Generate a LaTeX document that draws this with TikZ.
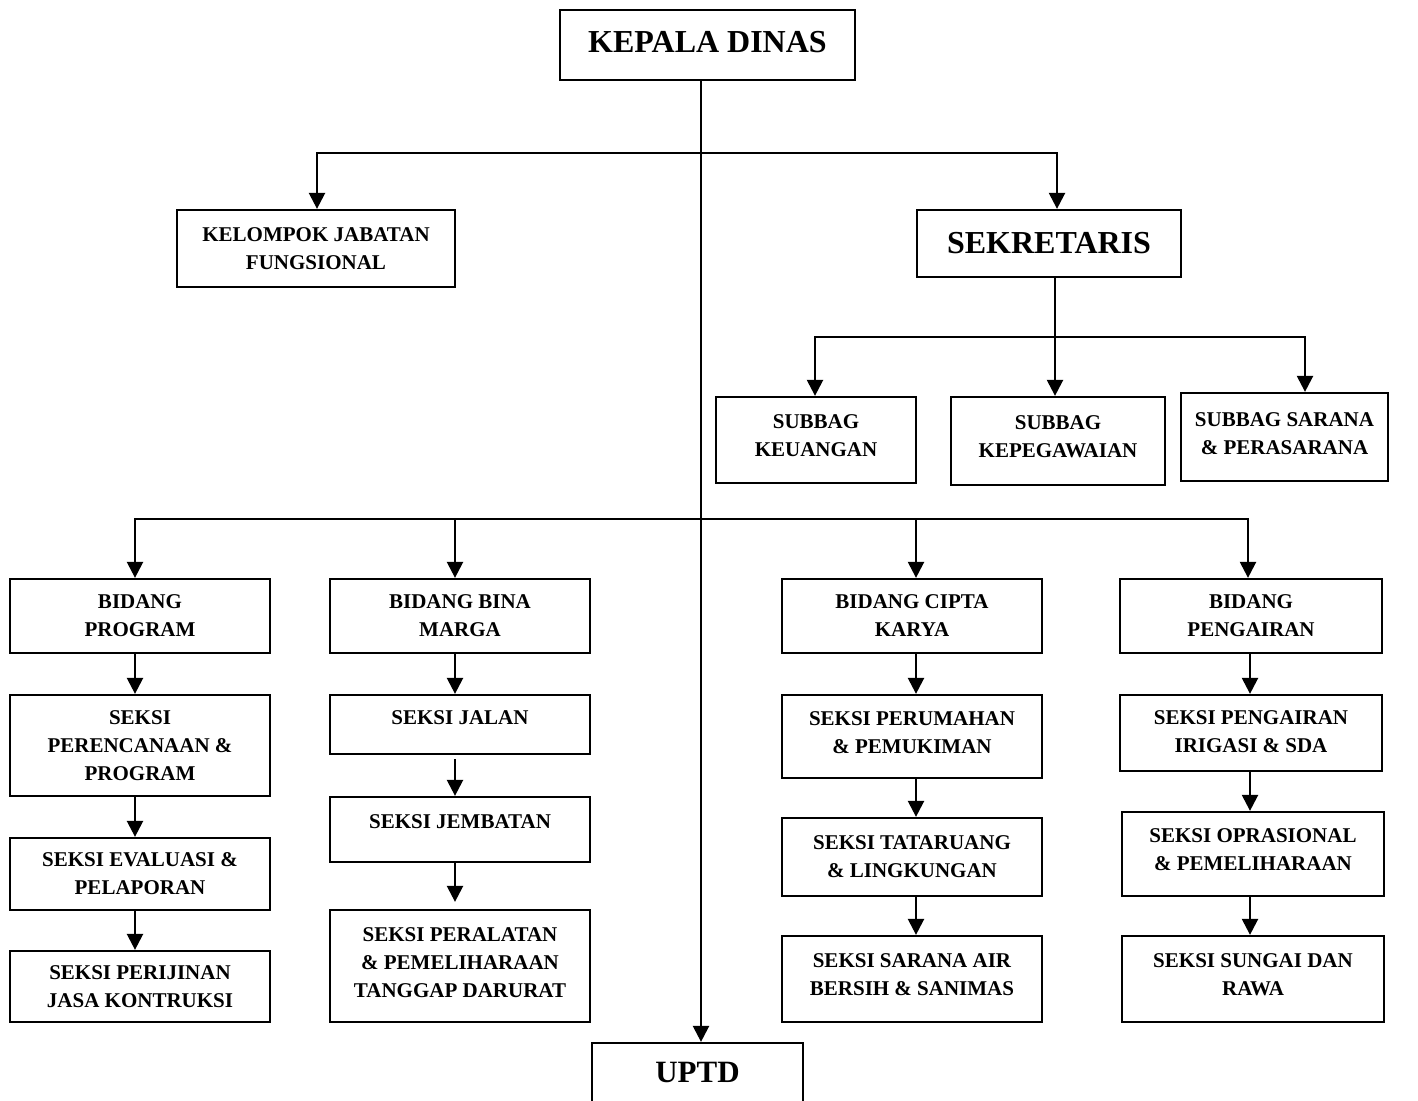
\documentclass[tikz,border=0pt]{standalone}
\usepackage{fontspec}
\setmainfont{Liberation Serif}
\usetikzlibrary{arrows.meta}
\begin{document}
\begin{tikzpicture}[x=0.5pt,y=-0.5pt,
  box/.style={draw, line width=1.15pt, rectangle, align=center, inner sep=0pt,
    font=\fontsize{10.5}{14}\selectfont\bfseries},
  big/.style={box, font=\fontsize{16}{18}\selectfont\bfseries},
  colbox/.style={box, minimum width=130pt},
  arr/.style={line width=1.2pt, -{Triangle[width=8pt,length=8pt]}}]
\useasboundingbox (0,0) rectangle (1418,1100);
\clip (0,0) rectangle (1418,1100);

% top level
\node[big, minimum width=147.5pt, minimum height=35pt, text depth=3pt] (kd) at (707.5,45) {KEPALA DINAS};
\node[box, minimum width=139pt, minimum height=38.5pt] (kjf) at (316,248.5) {KELOMPOK JABATAN\\FUNGSIONAL};
\node[big, minimum width=132pt, minimum height=33.5pt] (sek) at (1049,243.5) {SEKRETARIS};

% subbag
\node[box, minimum width=100pt, minimum height=43pt, text depth=4pt] (sk1) at (816,440) {SUBBAG\\KEUANGAN};
\node[box, minimum width=107pt, minimum height=44pt, text depth=4pt] (sk2) at (1058,441) {SUBBAG\\KEPEGAWAIAN};
\node[box, minimum width=103.5pt, minimum height=44pt, text depth=3.5pt] (sk3) at (1284.5,437) {SUBBAG SARANA\\\& PERASARANA};

% column 1
\node[colbox, minimum height=37pt] (b1) at (140,616) {BIDANG\\PROGRAM};
\node[colbox, minimum height=50.5pt] (s11) at (140,745.5) {SEKSI\\PERENCANAAN \&\\PROGRAM};
\node[colbox, minimum height=36pt] (s12) at (140,874) {SEKSI EVALUASI \&\\PELAPORAN};
\node[colbox, minimum height=35.5pt] (s13) at (140,986.5) {SEKSI PERIJINAN\\JASA KONTRUKSI};

% column 2
\node[colbox, minimum height=37pt] (b2) at (460,616) {BIDANG BINA\\MARGA};
\node[colbox, minimum height=29.5pt, text height=7pt, text depth=7pt] (s21) at (460,724.5) {SEKSI JALAN};
\node[colbox, minimum height=32.5pt, text height=7pt, text depth=8pt] (s22) at (460,829.5) {SEKSI JEMBATAN};
\node[colbox, minimum height=56pt, text depth=3.5pt] (s23) at (460,966) {SEKSI PERALATAN\\\& PEMELIHARAAN\\TANGGAP DARURAT};

% column 3
\node[colbox, minimum height=37pt] (b3) at (912,616) {BIDANG CIPTA\\KARYA};
\node[colbox, minimum height=41.5pt, text depth=4pt] (s31) at (912,736.5) {SEKSI PERUMAHAN\\\& PEMUKIMAN};
\node[colbox, minimum height=39pt] (s32) at (912,857) {SEKSI TATARUANG\\\& LINGKUNGAN};
\node[colbox, minimum height=43pt, text depth=4pt] (s33) at (912,979) {SEKSI SARANA AIR\\BERSIH \& SANIMAS};

% column 4
\node[colbox, minimum width=131pt, minimum height=37pt] (b4) at (1251,616) {BIDANG\\PENGAIRAN};
\node[colbox, minimum width=131pt, minimum height=38pt, text depth=1pt] (s41) at (1251,733) {SEKSI PENGAIRAN\\IRIGASI \& SDA};
\node[colbox, minimum width=131pt, minimum height=42pt, text depth=4pt] (s42) at (1253,854) {SEKSI OPRASIONAL\\\& PEMELIHARAAN};
\node[colbox, minimum width=131pt, minimum height=43pt, text depth=4pt] (s43) at (1253,979) {SEKSI SUNGAI DAN\\RAWA};

% UPTD
\node[box, font=\fontsize{15.5}{18}\selectfont\bfseries, minimum width=105.5pt, minimum height=33.5pt, text depth=4.5pt] (uptd) at (697.5,1076.5) {UPTD};

% connectors
\coordinate (tx) at (701,0);
\draw[arr] (kd.south -| tx) -- (uptd.north -| tx);

\coordinate (h1) at (701,153);
\draw[arr] (h1) -| ([xshift=0.5pt]kjf.north);
\draw[arr] (h1) -| ([xshift=4pt]sek.north);

\coordinate (sx) at (1055,0);
\coordinate (h2) at (1055,337);
\draw[arr] (sek.south -| sx) -- (sk2.north -| sx);
\draw[arr] (h2) -| ([xshift=-0.5pt]sk1.north);
\draw[arr] (h2) -| ([xshift=10.25pt]sk3.north);

\coordinate (h3) at (701,519);
\draw[arr] (h3) -| ([xshift=-2.5pt]b1.north);
\draw[arr] (h3) -| ([xshift=-2.5pt]b2.north);
\draw[arr] (h3) -| ([xshift=2pt]b3.north);
\draw[arr] (h3) -| ([xshift=-1.5pt]b4.north);

\coordinate (c1) at (135,0);
\draw[arr] (b1.south -| c1) -- (s11.north -| c1);
\draw[arr] (s11.south -| c1) -- (s12.north -| c1);
\draw[arr] (s12.south -| c1) -- (s13.north -| c1);

\coordinate (c2) at (455,0);
\draw[arr] (b2.south -| c2) -- (s21.north -| c2);
\draw[arr, shorten <=2pt] (s21.south -| c2) -- (s22.north -| c2);
\draw[arr, shorten >=3.5pt] (s22.south -| c2) -- (s23.north -| c2);

\coordinate (c3) at (916,0);
\draw[arr] (b3.south -| c3) -- (s31.north -| c3);
\draw[arr] (s31.south -| c3) -- (s32.north -| c3);
\draw[arr] (s32.south -| c3) -- (s33.north -| c3);

\coordinate (c4) at (1250,0);
\draw[arr] (b4.south -| c4) -- (s41.north -| c4);
\draw[arr] (s41.south -| c4) -- (s42.north -| c4);
\draw[arr] (s42.south -| c4) -- (s43.north -| c4);
\end{tikzpicture}
\end{document}
